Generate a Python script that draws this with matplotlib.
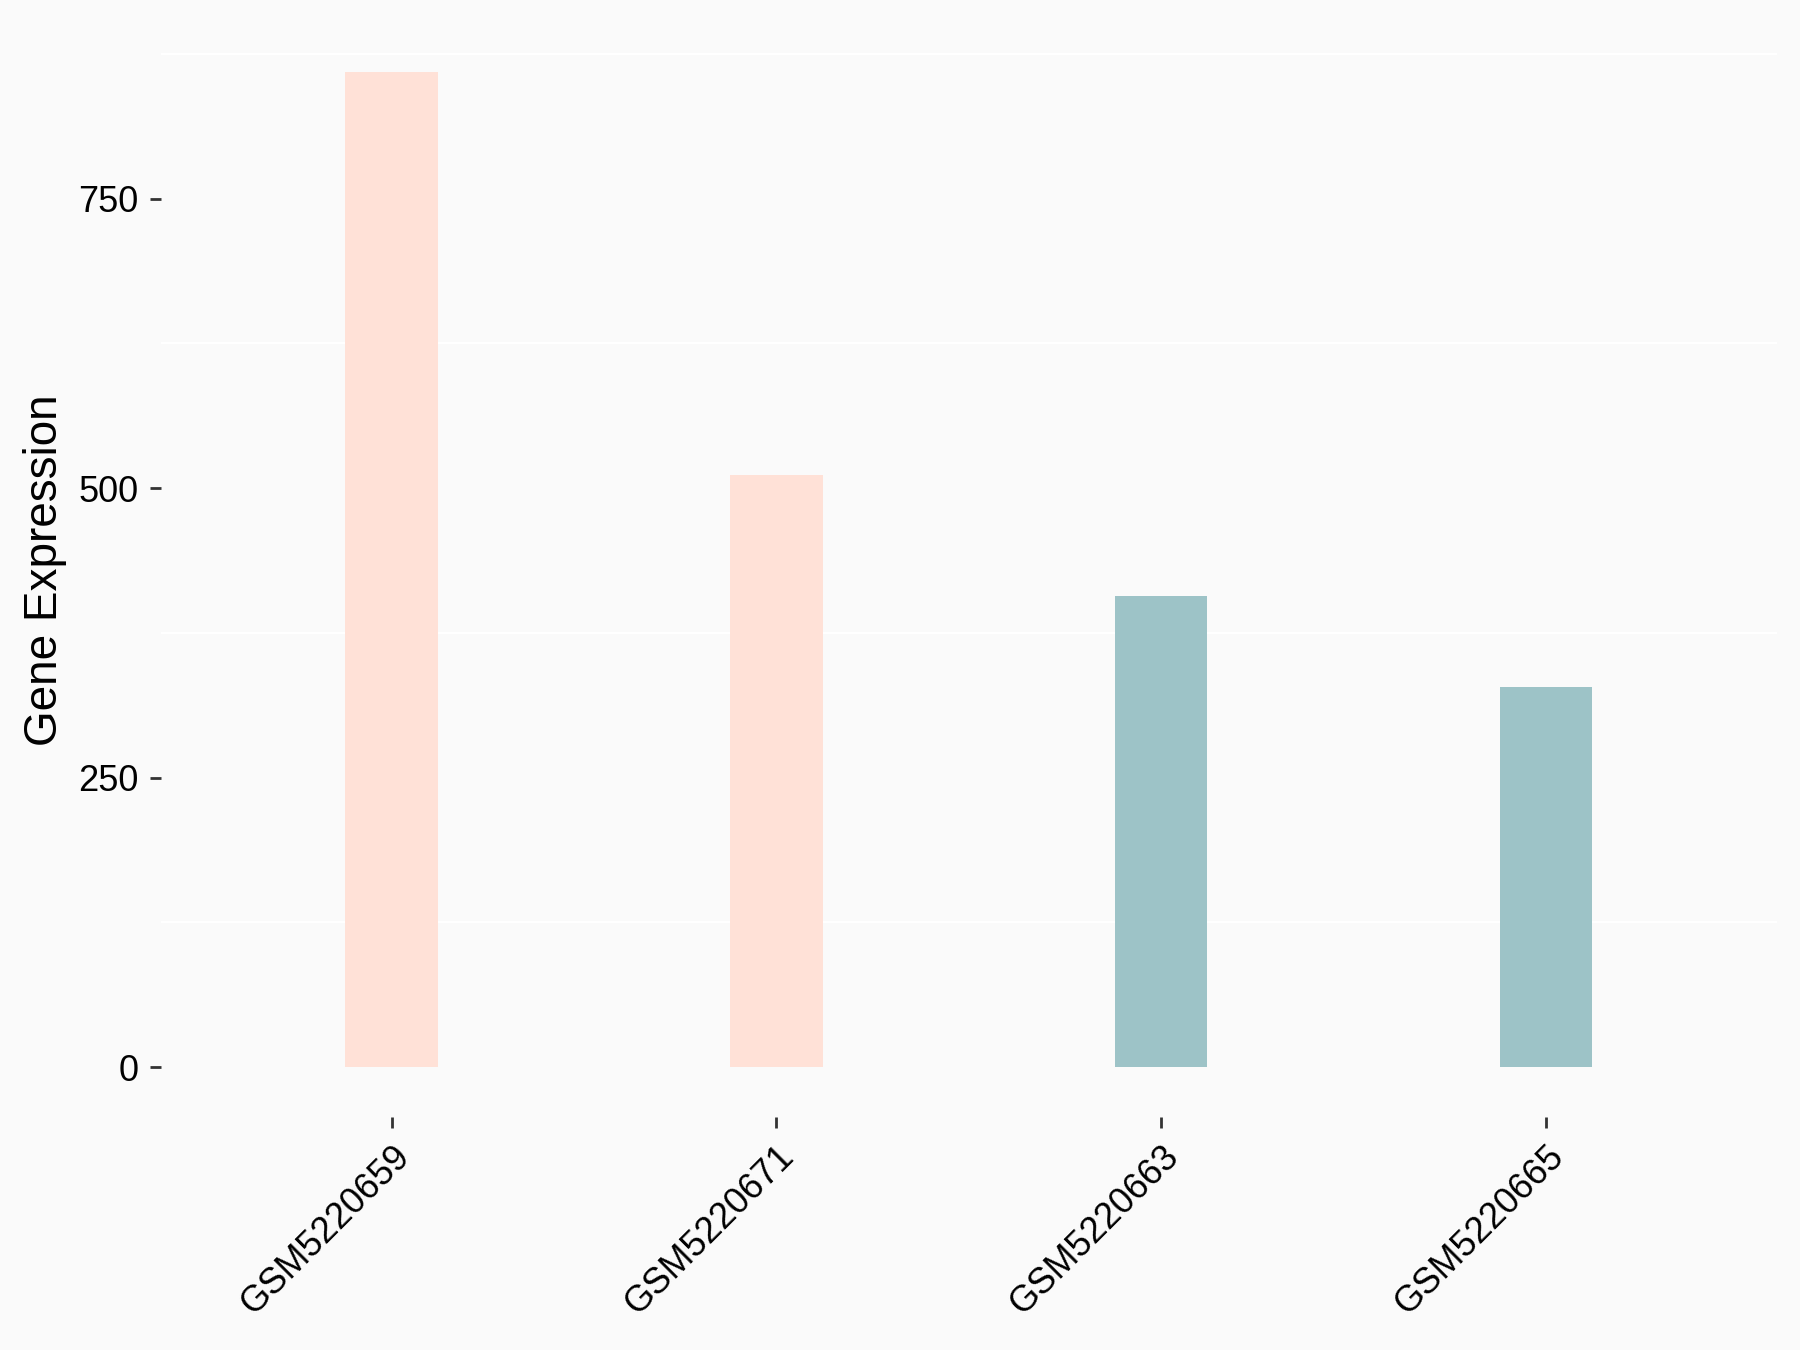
import matplotlib.pyplot as plt
import numpy as np

plt.rcParams['font.family'] = ['Liberation Sans', 'DejaVu Sans']

samples = ['GSM5220659', 'GSM5220671', 'GSM5220663', 'GSM5220665']
expression = [859, 511, 407, 328]
groups = ['A', 'A', 'B', 'B']
group_colors = {'A': '#FFE1D7', 'B': '#9DC3C7'}

bg = '#FAFAFA'

fig = plt.figure(figsize=(9, 6.75), dpi=200, facecolor=bg)
ax = fig.add_axes([0.0893, 0.1726, 0.9872 - 0.0893, 0.9833 - 0.1726])
ax.set_facecolor(bg)

x = np.arange(1, len(samples) + 1)
cols = [group_colors[g] for g in groups]
ax.bar(x, expression, width=0.24, color=cols, zorder=2)

ymax = max(expression)
ax.set_ylim(-0.05 * ymax, 1.05 * ymax)
ax.set_xlim(0.4, len(samples) + 0.6)

ax.set_yticks([0, 250, 500, 750])
ax.set_yticks([125, 375, 625, 875], minor=True)
ax.grid(which='minor', axis='y', color='white', linewidth=0.8, zorder=1)
ax.grid(which='major', visible=False)
ax.tick_params(axis='y', which='minor', length=0)

ax.set_xticks(x)
ax.set_xticklabels(samples, rotation=45, ha='right', va='top',
                   rotation_mode='anchor', fontsize=13)
ax.tick_params(axis='both', which='major', length=4, width=1,
               color='#333333', labelsize=13, labelcolor='black')
ax.tick_params(axis='x', pad=4)
ax.tick_params(axis='y', pad=4)

for s in ax.spines.values():
    s.set_visible(False)

ax.set_ylabel('Gene Expression', fontsize=16.5, labelpad=4)

fig.savefig('out.png', dpi=200, facecolor=bg)
